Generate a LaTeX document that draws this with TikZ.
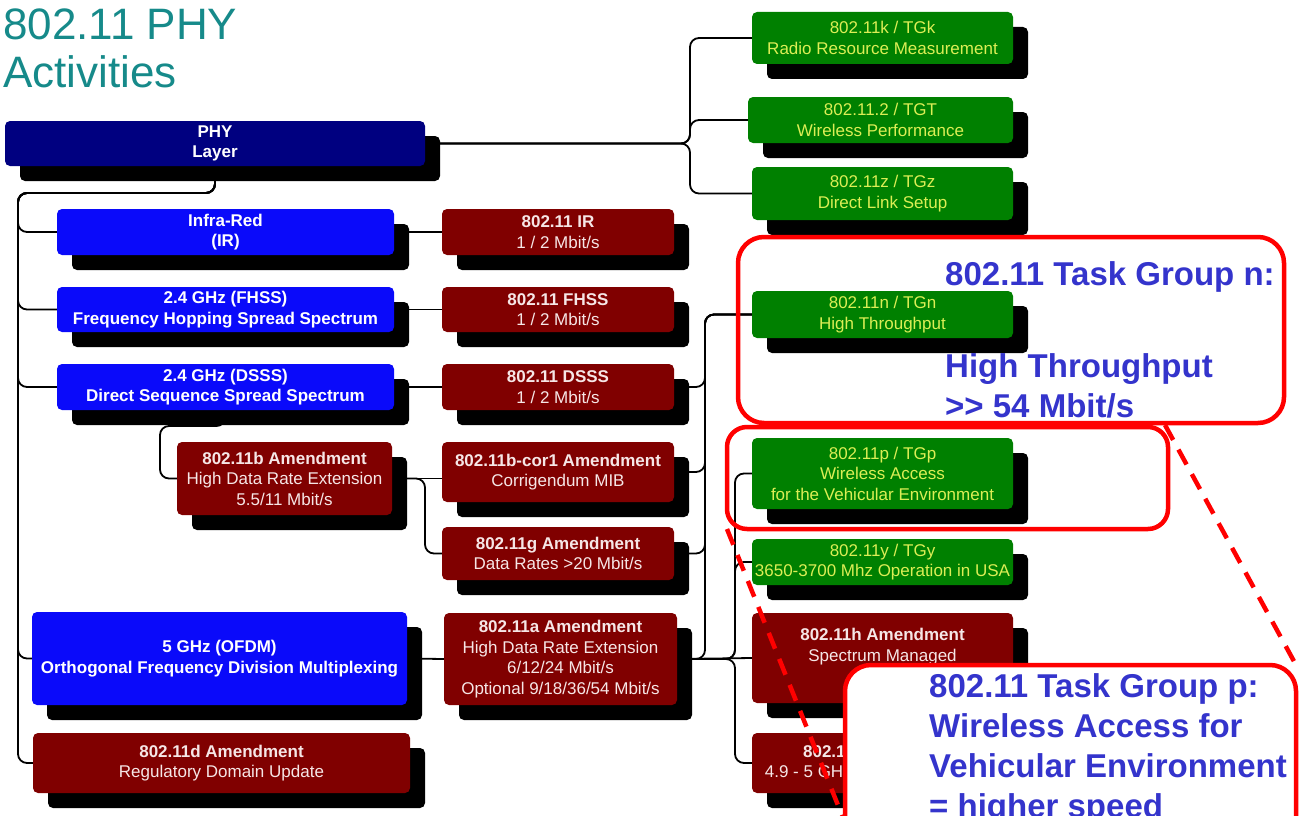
\documentclass[tikz,border=0pt]{standalone}
\usepackage{fontspec}
\setmainfont{Liberation Sans}
\usetikzlibrary{shadows}
\pgfdeclarelayer{bg}
\pgfsetlayers{bg,main}
\definecolor{navy}{RGB}{0,0,128}
\definecolor{bblue}{RGB}{10,10,250}
\definecolor{dred}{RGB}{128,0,0}
\definecolor{dgreen}{RGB}{0,128,0}
\definecolor{ytext}{RGB}{220,238,85}
\definecolor{ptext}{RGB}{246,230,230}
\definecolor{tealtitle}{RGB}{22,138,138}
\definecolor{cblue}{RGB}{52,52,204}
\tikzset{
  box/.style={rounded corners=5pt, align=center, inner sep=0pt, outer sep=0pt,
    font=\fontsize{17}{20.5}\selectfont,
    drop shadow={shadow xshift=15pt, shadow yshift=-15pt, opacity=1, fill=black}},
  navybox/.style={box, fill=navy, text=white, font=\fontsize{17}{20.5}\selectfont\bfseries},
  bluebox/.style={box, fill=bblue, text=white, font=\fontsize{17}{20.5}\selectfont\bfseries},
  redbox/.style={box, fill=dred, text=ptext},
  greenbox/.style={box, fill=dgreen, text=ytext},
  conn/.style={draw=black, line width=1.8pt, rounded corners=9pt},
  callout/.style={draw=red, line width=4.5pt, rounded corners=26pt, inner sep=0pt, outer sep=0pt},
  ctext/.style={text=cblue, font=\fontsize{33}{38}\selectfont\bfseries, anchor=base west, inner sep=0pt},
  dline/.style={draw=red, line width=4.5pt, dash pattern=on 17pt off 11pt},
  titletext/.style={text=tealtitle, font=\fontsize{44}{48}\selectfont, anchor=base west, inner sep=0pt}
}
\begin{document}
\begin{tikzpicture}[x=1pt,y=-1pt]
\useasboundingbox (0,0) rectangle (1301,816);
\clip (0,0) rectangle (1301,816);

% title
\node[titletext] (t1) at (3,40) {802.11 PHY};
\node[titletext] (t2) at (3,88) {Activities};

% left column
\node[navybox, minimum width=420pt, minimum height=45pt] (phy) at (215,143.5) {PHY\\Layer};
\node[bluebox, minimum width=337pt, minimum height=46pt] (ir) at (225.5,232) {Infra-Red\\(IR)};
\node[bluebox, minimum width=337pt, minimum height=45pt] (fhss) at (225.5,309.5) {2.4 GHz (FHSS)\\Frequency Hopping Spread Spectrum};
\node[bluebox, minimum width=337pt, minimum height=46pt] (dsss) at (225.5,387) {2.4 GHz (DSSS)\\Direct Sequence Spread Spectrum};
\node[redbox, minimum width=215pt, minimum height=73pt] (b) at (284.5,478.5) {\textbf{802.11b Amendment}\\High Data Rate Extension\\5.5/11 Mbit/s};
\node[bluebox, minimum width=375pt, minimum height=93pt] (ofdm) at (219.5,658.5) {5 GHz (OFDM)\\Orthogonal Frequency Division Multiplexing};
\node[redbox, minimum width=377pt, minimum height=60pt] (d) at (221.5,763) {\textbf{802.11d Amendment}\\Regulatory Domain Update};

% middle column
\node[redbox, minimum width=232pt, minimum height=46pt] (irr) at (558,232) {\textbf{802.11 IR}\\1 / 2 Mbit/s};
\node[redbox, minimum width=232pt, minimum height=45pt] (fhssr) at (558,309.5) {\textbf{802.11 FHSS}\\1 / 2 Mbit/s};
\node[redbox, minimum width=232pt, minimum height=46pt] (dsssr) at (558,387) {\textbf{802.11 DSSS}\\1 / 2 Mbit/s};
\node[redbox, minimum width=232pt, minimum height=60pt] (bcor) at (558,472) {\textbf{802.11b-cor1 Amendment}\\Corrigendum MIB};
\node[redbox, minimum width=232pt, minimum height=53pt] (g) at (558,553.5) {\textbf{802.11g Amendment}\\Data Rates >20 Mbit/s};
\node[redbox, minimum width=233pt, minimum height=92pt] (a) at (560.5,659) {\textbf{802.11a Amendment}\\High Data Rate Extension\\6/12/24 Mbit/s\\Optional 9/18/36/54 Mbit/s};

% right column
\node[greenbox, minimum width=261pt, minimum height=52pt] (k) at (882.5,38) {802.11k / TGk\\Radio Resource Measurement};
\node[greenbox, minimum width=265pt, minimum height=46pt] (tgt) at (880.5,120) {802.11.2 / TGT\\Wireless Performance};
\node[greenbox, minimum width=261pt, minimum height=53pt] (z) at (882.5,193.5) {802.11z / TGz\\Direct Link Setup};
\node[greenbox, minimum width=261pt, minimum height=47pt] (n) at (882.5,314.5) {802.11n / TGn\\High Throughput};
\node[greenbox, minimum width=261pt, minimum height=71pt] (p) at (882.5,473.5) {802.11p / TGp\\Wireless Access\\for the Vehicular Environment};
\node[greenbox, minimum width=261pt, minimum height=46pt] (y) at (882.5,562) {802.11y / TGy\\3650-3700 Mhz Operation in USA};
\node[redbox, minimum width=261pt, minimum height=90pt] (h) at (882.5,658) {\textbf{802.11h Amendment}\\Spectrum Managed\\\strut};
\node[redbox, minimum width=261pt, minimum height=60pt] (j) at (882.5,763) {\textbf{802.11j Amendment}\\4.9 - 5 GHz Operation in Japan};

% connectors
\coordinate (lb) at (18,193);
\coordinate (cb) at (160,426);
\begin{pgfonlayer}{bg}
\draw[conn] (phy.east) -| ([xshift=-62pt]k.west) -- (k.west);
\draw[conn] (phy.east) -| ([xshift=-58pt]tgt.west) -- (tgt.west);
\draw[conn] (phy.east) -| ([xshift=-62pt]z.west) -- (z.west);
\draw[conn] (phy.south) |- (lb) |- (ir.west);
\draw[conn] (phy.south) |- (lb) |- (fhss.west);
\draw[conn] (phy.south) |- (lb) |- (dsss.west);
\draw[conn] (phy.south) |- (lb) |- (ofdm.west);
\draw[conn] (phy.south) |- (lb) |- (d.west);
\draw[conn] (ir.east) -- (irr.west);
\draw[conn] (fhss.east) -- (fhssr.west);
\draw[conn] (dsss.east) -- (dsssr.west);
\draw[conn] (ofdm.east) -- (a.west);
\draw[conn] (dsss.south) |- (cb) |- (b.west);
\draw[conn] (b.east) -- (b.east -| bcor.west);
\draw[conn] (b.east) -| ([xshift=-17pt]g.west) -- (g.west);
\draw[conn] (dsssr.east) -| ([xshift=-47pt]n.west) -- (n.west);
\draw[conn] (bcor.east) -| ([xshift=-47pt]n.west) -- (n.west);
\draw[conn] (g.east) -| ([xshift=-47pt]n.west) -- (n.west);
\draw[conn] (a.east) -| ([xshift=-47pt]n.west) -- (n.west);
\draw[conn] (a.east) -- (h.west);
\draw[conn] (a.east) -| ([xshift=-17pt]p.west) -- (p.west);
\draw[conn] (a.east) -| ([xshift=-17pt]y.west) -- (y.west);
\draw[conn] (a.east) -| ([xshift=-17pt]j.west) -- (j.west);
\end{pgfonlayer}

% callouts
\node[callout, minimum width=546pt, minimum height=186pt] (cn) at (1011,330) {};
\node[callout, rounded corners=20pt, minimum width=441pt, minimum height=102pt] (cp) at (947.5,478) {};
\coordinate (dl) at (860,860);
\draw[dline] (cp.south west) -- (dl);
\node[callout, fill=white, minimum width=451pt, minimum height=210pt] (cbig) at (1070.5,770) {};
\draw[dline] ([xshift=-3pt,yshift=2pt]cp.north east) -- (cbig.north east);

\node[ctext] (cn1) at (945,285) {802.11 Task Group n:};
\node[ctext] (cn2) at (945,377) {High Throughput};
\node[ctext] (cn3) at (945,417) {>\kern0pt> 54 Mbit/s};
\node[ctext] (cp1) at (929,697) {802.11 Task Group p:};
\node[ctext] (cp2) at (929,737) {Wireless Access for};
\node[ctext] (cp3) at (929,777) {Vehicular Environment};
\node[ctext] (cp4) at (929,817) {= higher speed};
\end{tikzpicture}
\end{document}
